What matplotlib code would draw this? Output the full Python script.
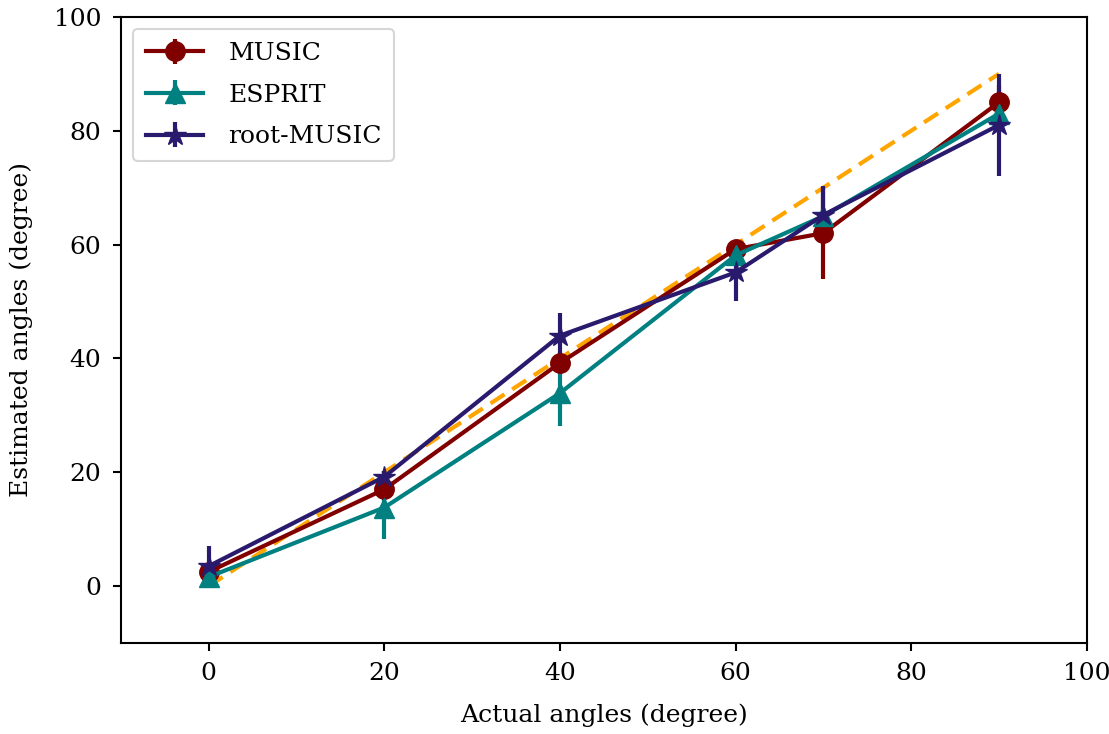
import matplotlib
matplotlib.use("Agg")
import matplotlib.pyplot as plt

# Actual source angles (degrees)
actual = [0, 20, 40, 60, 70, 90]

# Estimated angles and their spread for each estimator
music = [2.5, 17.0, 39.2, 59.2, 62.0, 85.0]
music_err = [1.0, 1.5, 2.0, 1.5, 8.0, 3.0]

esprit = [1.6, 13.8, 33.9, 58.1, 65.0, 83.0]
esprit_err = [1.0, 5.6, 5.8, 1.5, 1.5, 2.0]

root_music = [3.5, 19.2, 44.0, 55.1, 65.2, 81.0]
root_music_err = [3.5, 1.0, 4.0, 5.0, 5.0, 9.0]

ideal = [0, 90]

plt.rcParams["font.family"] = ["DejaVu Serif"]
plt.rcParams["font.size"] = 18

fig = plt.figure(figsize=(11.09, 7.34), dpi=100)
ax = fig.add_axes([0.109, 0.124, 0.871, 0.853])

lw = 3.0
ms = 14
ax.errorbar(actual, music, yerr=music_err, color="#800000", marker="o",
            markersize=ms, linewidth=lw, elinewidth=lw, label="MUSIC")
ax.errorbar(actual, esprit, yerr=esprit_err, color="#008080", marker="^",
            markersize=ms, linewidth=lw, elinewidth=lw, label="ESPRIT")
ax.errorbar(actual, root_music, yerr=root_music_err, color="#2a1a6e", marker="*",
            markersize=ms + 2, linewidth=lw, elinewidth=lw, label="root-MUSIC")
ax.plot(ideal, ideal, linestyle="--", color="orange", linewidth=3,
        dashes=(4, 2.2), zorder=1.5)

ax.set_xlim(-10, 100)
ax.set_ylim(-10, 100)
ax.set_xticks([0, 20, 40, 60, 80, 100])
ax.set_yticks([0, 20, 40, 60, 80, 100])
ax.tick_params(length=6, width=1.5, labelsize=18, pad=8)
for s in ax.spines.values():
    s.set_linewidth(1.5)

ax.set_xlabel("Actual angles (degree)", fontsize=18, labelpad=13)
ax.set_ylabel("Estimated angles (degree)", fontsize=18, labelpad=15)

leg = ax.legend(loc="upper left", fontsize=18, handlelength=2.3,
                handletextpad=1.0, borderpad=0.5, labelspacing=0.75,
                framealpha=0.8)
leg.get_frame().set_linewidth(1.5)

fig.savefig("out.png", dpi=100)
